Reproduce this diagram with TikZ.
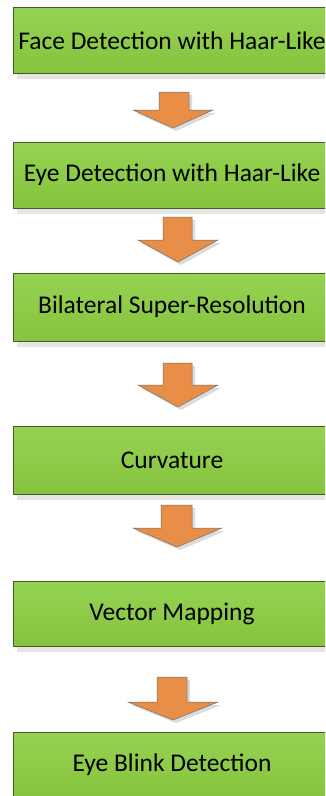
\documentclass[tikz,border=0pt]{standalone}
\usepackage{fontspec}
\setmainfont{Carlito}
\definecolor{gtop}{RGB}{148,210,82}
\definecolor{gbot}{RGB}{134,196,62}
\definecolor{boxedge}{RGB}{72,88,48}
\definecolor{arrfill}{RGB}{233,142,70}
\definecolor{arredge}{RGB}{110,110,110}
\newcommand{\blockarrow}[8]{%
  \fill[black!14,shift={(3,3)}] (#1,#3) -- (#2,#3) -- (#2,#6) -- (#5,#6) -- (#8,#7) -- (#4,#6) -- (#1,#6) -- cycle;
  \draw[arrowshape] (#1,#3) -- (#2,#3) -- (#2,#6) -- (#5,#6) -- (#8,#7) -- (#4,#6) -- (#1,#6) -- cycle;}
\begin{document}
\begin{tikzpicture}[x=1pt,y=-1pt,
  procbox/.style={draw=boxedge, line width=0.9pt, top color=gtop, bottom color=gbot,
    minimum width=340pt, minimum height=66pt, inner sep=0pt,
    font=\fontsize{25.5}{30}\selectfont, text=black},
  boxshadow/.style={fill=black!10},
  arrowshape/.style={fill=arrfill, draw=arredge, line width=0.5pt, line join=miter}]
\useasboundingbox (0,0) rectangle (325,796);
\fill[white] (0,0) rectangle (325,796);
\begin{scope}
\clip (0,0) rectangle (325,796);
\foreach \cy/\h in {40.5/65, 175/66, 307/68, 460/68, 613.5/65, 765/66}{
  \fill[boxshadow] (17,\cy+0.5*\h) rectangle (345,\cy+0.5*\h+6);
}
\node[procbox] (b1) at (183,40.5) {\hspace*{-22pt}Face Detection with Haar-Like};
\node[procbox] (b2) at (183,175) {\hspace*{-22pt}Eye Detection with Haar-Like};
\node[procbox, minimum height=68pt] (b3) at (183,307) {\hspace*{-22pt}Bilateral Super-Resolution};
\node[procbox, minimum height=68pt] (b4) at (183,460) {\hspace*{-22pt}Curvature};
\node[procbox, minimum height=65pt] (b5) at (183,613.5) {\hspace*{-22pt}Vector Mapping};
\node[procbox] (b6) at (183,765) {\hspace*{-22pt}Eye Blink Detection};
\end{scope}
\blockarrow{159}{189}{92}{133}{213}{110}{128}{173}
\blockarrow{163}{192}{217}{138}{218}{240}{262}{178}
\blockarrow{163}{192}{363}{138}{218}{385}{407}{178}
\blockarrow{161}{192}{505}{133}{222}{528}{547}{177}
\blockarrow{157}{187}{677}{128}{218}{702}{720}{173}
\end{tikzpicture}
\end{document}
